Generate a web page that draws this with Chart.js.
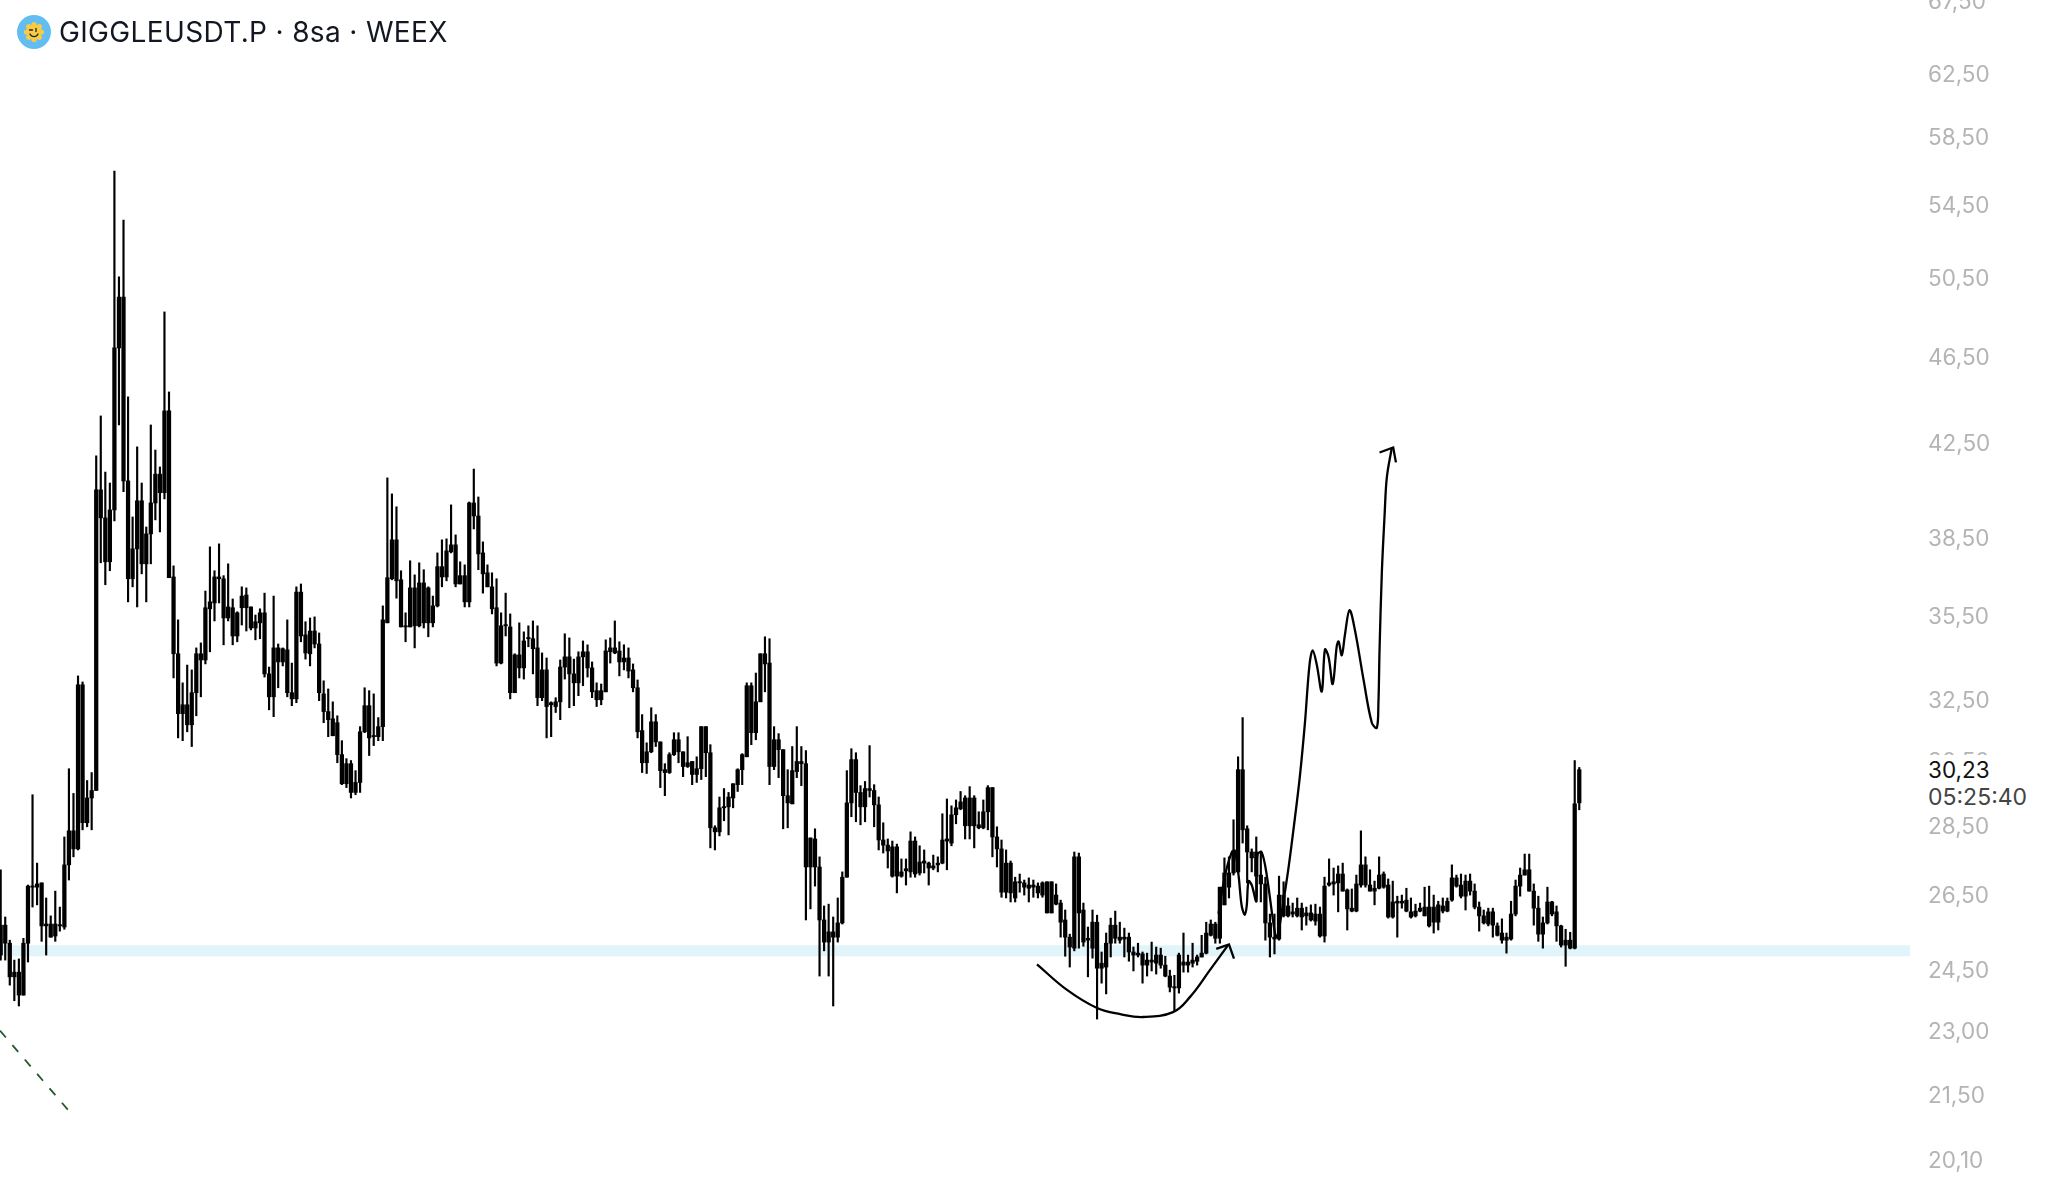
<!DOCTYPE html>
<html>
<head>
<meta charset="utf-8">
<style>
html,body{margin:0;padding:0;background:#fff;width:2047px;height:1198px;overflow:hidden}
#wrap{position:relative;width:2047px;height:1198px}
#title{position:absolute;left:59px;top:15px;font:28px/34px Inter,sans-serif;color:#131722;white-space:nowrap;letter-spacing:.35px}
#icon{position:absolute;left:17px;top:15px;width:34px;height:34px}
#last{position:absolute;left:1920px;top:755px;width:127px;height:58px;background:#fff;font:22.5px/26px Inter,sans-serif}
#last div{position:absolute;left:8px;white-space:nowrap}
#lastPrice{top:2px;color:#111}
#countdown{top:29px;color:#444;font-size:23px}
</style>
</head>
<body>
<div id="wrap">
<canvas id="c" width="2047" height="1198"></canvas>
<svg id="icon" viewBox="0 0 34 34"><circle cx="17" cy="17" r="17" fill="#62BDF3"/><g fill="#F7CB45"><circle cx="17" cy="17" r="7.5"/><circle cx="17" cy="9.5" r="2.6"/><circle cx="17" cy="24.5" r="2.6"/><circle cx="9.5" cy="17" r="2.6"/><circle cx="24.5" cy="17" r="2.6"/><circle cx="11.7" cy="11.7" r="2.6"/><circle cx="22.3" cy="11.7" r="2.6"/><circle cx="11.7" cy="22.3" r="2.6"/><circle cx="22.3" cy="22.3" r="2.6"/></g><path d="M12.5 15h3M19 13.5v3M13 19c1.5 3.5 6.5 3.5 8 0" fill="none" stroke="#222" stroke-width="1.3" stroke-linecap="round"/></svg>
<div id="title">GIGGLEUSDT.P · 8sa · WEEX</div>
<div id="last"><div id="lastPrice">30,23</div><div id="countdown">05:25:40</div></div>
</div>
<script src="https://cdn.jsdelivr.net/npm/chart.js@4/dist/chart.umd.min.js"></script>
<script>
const tickValues=[67.5,62.5,58.5,54.5,50.5,46.5,42.5,38.5,35.5,32.5,30.5,28.5,26.5,24.5,23,21.5,20.1];
const highs=[27.21,25.90,25.28,24.76,24.79,25.33,26.78,29.43,27.40,26.84,26.42,25.93,26.61,26.17,28.16,30.24,29.47,33.32,33.11,29.87,30.12,41.93,43.72,41.23,40.76,56.47,50.56,53.65,44.6,39.34,42.33,40.76,38.93,43.31,42.19,41.45,48.74,44.83,37.38,35.33,33.08,33.70,33.53,34.31,34.49,36.41,38.13,37.19,38.25,37.0,37.46,36.11,35.63,36.57,36.53,35.81,35.51,35.74,36.33,33.63,36.22,34.45,34.31,35.33,33.77,36.57,36.68,35.26,35.4,35.44,34.85,33.15,32.87,32.43,31.96,31.14,30.56,30.5,30.18,31.6,32.91,32.81,32.7,31.9,35.85,40.98,40.3,39.76,
37.19,35.59,37.58,37.03,37.5,37.23,36.57,36.22,37.89,38.41,38.45,39.84,38.61,37.54,37.42,39.96,41.36,40.17,38.33,37.42,37.11,36.88,35.59,36.33,35.55,34.1,35.22,34.89,35.11,35.29,35.11,34.13,33.95,32.43,32.57,33.88,34.82,34.67,33.91,34.17,34.56,34.42,33.81,33.08,33.04,34.6,34.67,35.29,34.53,34.42,34.31,33.74,33.18,32.0,31.07,32.23,32.0,31.1,30.4,30.75,31.4,31.4,30.78,31.27,30.47,30.62,31.6,31.6,31.01,28.49,29.36,29.62,29.5,29.77,30.24,30.72,33.08,33.08,33.42,34.1,34.71,34.64,31.6,31.37,30.85,30.21,30.95,31.6,30.95,30.82,
28.13,28.4,27.58,26.2,26.25,25.9,26.42,27.15,30.18,30.88,30.75,29.71,29.84,30.98,29.74,29.36,28.58,28.1,28.04,27.95,27.52,27.52,28.31,28.16,27.9,27.78,27.43,27.63,27.58,28.85,29.3,29.09,29.27,29.53,29.4,29.68,29.4,28.91,29.27,29.71,29.65,28.46,28.07,27.78,27.46,27.0,27.09,26.92,26.98,26.92,26.84,26.87,26.87,26.87,26.81,26.36,26.09,25.44,27.72,27.69,26.28,25.63,26.09,25.95,24.97,25.47,25.87,26.06,25.76,25.6,25.47,25.1,25.2,24.97,24.94,25.23,25.1,25.07,24.86,24.5,24.37,24.94,25.47,24.89,25.2,24.89,25.41,25.76,25.82,25.76,26.72,27.55,27.58,
28.67,30.62,31.9,28.49,27.81,28.16,27.75,27.0,25.98,25.98,27.03,26.87,26.42,26.28,26.42,26.28,26.17,26.23,26.25,26.17,27.0,27.52,27.26,27.32,27.4,26.67,26.67,27.06,28.34,27.58,27.21,26.89,27.58,27.15,26.95,26.89,26.47,26.5,26.69,26.42,26.25,26.28,26.72,26.75,26.5,26.33,26.42,26.42,27.35,27.06,27.09,27.06,27.09,26.81,26.31,26.09,26.14,26.14,25.74,25.85,25.47,26.33,26.92,27.26,27.66,27.66,26.81,26.47,25.9,26.72,26.33,26.2,25.68,25.57,25.49,30.5,30.28];
const tops=[25.68,25.68,25.2,24.45,24.45,25.2,26.75,26.75,26.81,26.84,25.71,25.71,25.71,25.68,27.35,28.34,28.34,33.01,33.01,29.33,29.56,40.47,40.47,39.3,39.63,46.94,49.5,49.5,40.85,38.05,40.01,40.01,38.65,39.92,41.14,41.14,43.95,43.95,36.95,34.1,32.33,32.33,32.74,34.1,34.1,35.78,36.0,36.95,36.95,36.88,35.81,35.78,35.59,36.22,36.26,35.81,35.26,35.59,35.59,33.39,34.31,34.31,34.28,34.24,32.74,36.37,36.37,34.78,34.92,34.92,34.45,32.7,32.1,31.86,31.73,30.69,30.4,30.4,29.81,31.43,32.3,32.3,31.3,31.6,35.33,36.92,38.41,38.41,
36.84,35.11,36.53,36.53,36.72,36.72,36.53,35.85,37.35,37.35,37.97,38.21,38.21,37.0,37.0,39.92,39.92,39.38,37.89,37.11,36.57,35.78,35.11,35.14,35.07,34.06,34.06,34.56,34.67,34.64,34.31,33.53,33.53,32.4,32.43,33.63,33.99,33.99,33.39,33.99,34.17,34.17,33.6,32.81,32.81,34.2,34.31,34.31,34.2,33.95,33.95,33.53,32.91,31.47,30.78,31.76,31.76,31.1,30.21,30.69,31.17,31.17,30.78,30.43,30.47,30.24,31.6,31.6,30.75,28.43,29.03,29.06,29.36,29.77,30.21,30.69,32.98,32.98,32.43,34.1,34.1,33.77,31.17,31.17,30.85,29.4,30.18,30.47,30.47,30.4,
28.13,28.1,27.29,25.82,25.5,25.5,25.74,27.0,29.18,30.53,30.53,29.5,29.62,29.62,29.56,29.12,28.07,27.92,27.87,27.87,27.15,27.24,28.04,28.04,27.43,27.46,27.4,27.32,27.4,28.07,28.1,28.82,29.03,29.21,29.33,29.33,29.33,28.52,28.91,29.65,29.65,28.16,27.81,27.4,27.4,26.87,26.87,26.84,26.78,26.78,26.75,26.84,26.87,26.87,26.5,26.28,25.82,25.36,27.58,27.58,26.09,25.33,25.76,25.76,24.68,25.2,25.68,25.68,25.36,25.36,25.36,24.97,24.94,24.92,24.76,24.76,24.89,24.89,24.63,24.35,24.07,24.89,24.71,24.71,24.76,24.84,24.94,25.47,25.71,25.71,26.72,27.12,27.12,
27.75,30.21,30.21,28.4,27.72,27.72,27.06,26.81,25.74,25.36,26.5,26.5,26.2,26.04,26.14,26.14,26.01,26.01,25.98,25.98,26.75,26.84,26.87,27.09,27.09,26.64,26.14,26.81,27.35,27.35,26.78,26.69,27.06,27.09,26.78,26.31,26.33,26.33,26.36,26.04,26.06,26.14,26.17,26.17,26.17,26.23,26.2,26.33,26.98,26.98,26.78,26.89,26.89,26.61,26.17,25.93,26.04,26.04,25.66,25.47,25.36,25.98,26.75,27.06,27.21,27.21,26.61,26.14,25.74,26.31,26.31,26.04,25.66,25.28,25.28,29.15,30.21];
const bottoms=[24.89,25.2,24.33,24.33,23.87,23.87,25.2,26.72,26.72,25.66,25.66,25.36,25.39,25.66,25.63,27.35,27.81,27.81,28.58,28.58,29.33,29.56,39.3,37.54,37.54,39.63,46.94,40.85,36.88,36.88,38.05,37.46,37.46,38.65,39.92,40.35,40.35,36.92,34.1,32.03,32.03,31.66,31.66,32.74,33.88,33.88,35.74,35.96,36.88,35.4,35.4,34.74,34.74,35.78,35.78,35.03,35.03,35.22,33.39,32.6,32.6,33.81,33.81,32.74,32.53,32.53,34.74,34.13,34.1,34.45,32.74,32.1,31.83,31.3,30.69,29.77,29.77,29.5,29.5,29.81,31.43,31.23,31.27,31.27,31.6,35.22,36.88,36.8,
35.07,35.07,35.07,35.11,35.11,35.22,35.22,35.22,35.85,36.95,36.95,37.93,36.68,36.68,36.0,36.0,39.38,37.85,37.07,36.57,35.74,33.77,33.77,35.11,32.74,32.74,33.6,33.6,34.64,34.28,32.57,32.57,32.27,32.33,32.27,32.43,33.63,33.39,33.08,33.08,33.99,33.6,32.77,32.5,32.5,32.77,34.17,34.13,33.81,33.81,33.49,32.91,
31.43,30.43,30.43,30.78,31.1,30.18,30.12,30.12,30.69,30.78,30.31,30.31,30.06,30.06,30.24,30.75,28.43,28.31,28.31,29.03,29.06,29.33,29.74,30.21,30.62,31.4,31.4,32.43,33.74,30.31,30.31,30.85,29.4,29.18,29.15,30.15,30.4,27.29,
27.29,27.29,25.82,25.23,25.23,25.36,25.36,25.74,27.0,29.18,29.5,29.06,29.06,29.56,29.12,28.07,27.92,27.75,27.03,27.03,27.03,27.18,27.15,27.09,27.12,27.4,27.26,27.26,27.35,27.4,28.04,27.98,28.82,29.0,28.49,28.49,28.49,28.43,28.43,28.91,28.16,27.81,26.58,26.58,26.56,26.42,26.84,26.72,26.69,26.72,26.56,26.5,26.01,26.01,26.25,25.76,25.36,25.1,25.07,26.01,25.23,25.28,25.07,24.55,24.55,24.58,25.2,25.33,25.28,25.31,24.97,24.89,24.89,24.63,24.63,24.71,24.68,24.63,24.35,24.07,24.05,24.05,24.63,24.63,24.68,24.73,24.84,24.94,25.41,25.33,25.33,26.23,26.72,
27.12,27.15,28.37,27.72,27.55,27.03,26.81,25.74,25.36,25.31,25.31,25.93,25.93,25.98,25.93,25.9,25.93,25.82,25.79,25.39,25.39,26.78,26.81,26.84,26.61,26.12,26.06,26.06,26.78,26.78,26.61,26.61,26.69,26.72,25.9,25.9,26.28,26.28,26.06,25.9,25.93,26.06,25.93,25.66,25.76,25.76,26.06,26.06,26.36,26.75,26.47,26.47,26.61,26.17,25.93,25.74,25.71,25.68,25.41,25.28,25.28,25.31,25.98,26.75,27.06,26.61,26.14,25.44,25.44,25.74,25.98,25.66,25.15,25.15,25.07,25.07,29.18];
const lows=[24.76,24.76,24.12,23.73,23.6,23.87,24.71,26.17,26.23,25.25,24.89,25.36,25.25,25.52,25.57,26.92,27.58,27.78,28.37,28.46,28.37,29.56,37.5,36.65,37.19,39.18,43.31,40.39,36.0,36.57,35.81,37.07,36.0,37.46,39.22,38.73,40.09,36.92,33.25,31.23,31.14,31.43,30.95,31.96,32.6,33.74,34.17,35.29,35.96,34.42,35.29,34.42,34.53,35.14,34.92,34.96,34.6,34.64,33.28,32.16,31.93,32.91,33.67,32.6,32.3,32.4,34.53,33.91,33.67,34.31,32.47,31.73,31.27,31.3,30.43,29.74,29.65,29.33,29.43,29.5,31.4,30.66,30.98,31.14,31.14,35.22,36.84,36.14,
35.07,34.53,35.07,34.31,35.07,35.03,34.71,35.07,35.81,36.57,36.8,37.89,36.57,36.68,35.81,35.81,38.85,37.23,36.33,36.57,35.55,33.67,33.74,34.74,32.53,32.74,33.25,33.21,34.35,33.39,32.3,32.47,31.23,31.27,32.07,31.83,33.21,32.23,32.3,32.64,32.98,33.28,32.57,32.27,32.33,32.77,33.77,34.1,33.32,33.53,33.25,32.77,31.23,30.12,30.09,30.75,30.95,29.65,29.4,30.09,30.66,30.43,29.99,30.28,29.74,29.81,29.9,29.99,27.84,27.78,28.19,28.64,28.22,29.03,29.53,29.74,30.62,31.01,31.17,32.43,32.77,29.74,30.21,29.96,28.4,28.43,29.15,29.96,29.71,25.82,
26.12,26.75,24.35,25.0,24.35,23.6,25.23,25.71,27.0,28.76,28.61,28.52,28.61,29.36,28.46,27.78,27.69,27.26,27.0,26.56,27.0,26.78,27.0,27.0,27.06,27.12,26.78,27.21,27.15,27.38,27.21,27.9,28.55,28.97,28.1,28.1,27.84,28.4,28.4,28.37,27.58,27.29,26.44,26.42,26.31,26.31,26.58,26.5,26.31,26.44,26.42,26.44,26.01,26.01,26.23,25.36,24.86,24.58,25.0,25.07,25.12,24.33,24.81,23.28,24.17,23.9,24.84,25.2,25.2,24.84,24.73,24.48,24.84,24.17,24.35,24.48,24.4,24.55,24.33,23.95,23.48,23.92,24.45,24.45,24.58,24.63,24.84,24.92,25.39,25.2,25.2,26.23,26.42,
27.06,27.12,27.98,26.84,27.15,26.31,26.31,25.28,24.84,24.92,25.28,25.9,25.9,25.9,25.9,25.55,25.68,25.79,25.68,25.36,25.23,26.75,26.5,26.04,26.61,25.55,26.04,26.04,26.72,26.72,26.61,26.23,26.67,26.69,25.87,25.87,25.36,26.14,26.04,25.87,25.9,26.04,25.93,25.63,25.47,25.55,26.01,26.04,26.33,26.72,26.42,26.09,26.5,26.12,25.52,25.71,25.66,25.36,25.39,25.2,24.94,25.28,25.93,26.47,27.06,26.61,25.68,25.25,25.07,25.71,25.93,25.25,25.1,24.6,25.05,25.05,28.97];
const candleIndex=highs.map((_,i)=>i);
const bandPrice=25.0, bandStart=-0.15, bandEnd=419.7;
const cupX=[227.8,234.4,241.0,246.1,251.1,257.7,261.4,265.8,269.8];
const cupY=[24.65,24.0,23.55,23.4,23.33,23.45,23.82,24.5,25.15];
const cupArrowX=[267.2,270,271.1];
const cupArrowY=[25.05,25.17,24.8];
const pathX=[267.7,269.15,270.6,271.3,272.1,272.8,273.5,273.9,274.3,275,276,276.1,276.3,277.2,278.3,280.1,280.65,281.4,283.1,284.5,285.6,286.7,287.7,288.4,289.3,290.4,291.1,291.9,292.8,293.7,294.1,294.8,295.5,296.5,297.7,299.6,301.4,302.5,302.85,303.1,303.6,304.2,304.7,305.8];
const pathY=[25.99,27.06,27.71,27.76,27.06,26.2,25.96,26.2,26.89,26.78,26.33,27.16,27.66,27.71,27.06,25.47,25.36,25.87,27.28,28.73,30.02,31.73,33.71,34.22,33.71,32.78,34.25,33.98,33.04,34.38,34.54,34.05,34.8,35.69,34.94,33.17,31.73,31.56,32.39,34.25,37.11,39.39,41.0,42.3];
const pathArrowX=[303.1,306.1,306.7];
const pathArrowY=[42.08,42.3,41.65];
const dashX=[-0.15,15];
const dashY=[23.0,21.15];

const zip=(xs,ys)=>xs.map((x,i)=>({x,y:ys[i]}));
const bars=(a,b,thick,order,extra)=>Object.assign({type:'bar',data:candleIndex.map(i=>({x:i,y:[a[i],b[i]]})),backgroundColor:'#000',borderWidth:0,barThickness:thick,grouped:false,order},extra||{});
const line=(xs,ys,opts)=>Object.assign({type:'line',data:zip(xs,ys),borderColor:'#000',borderWidth:2.3,pointRadius:0,fill:false,tension:0,order:1},opts||{});

new Chart(document.getElementById('c'),{
 type:'bar',
 data:{datasets:[
  line([bandStart,bandEnd],[bandPrice,bandPrice],{borderColor:'#E0F4FA',borderWidth:11,order:10}),
  bars(lows,highs,1.5,5),
  bars(bottoms,tops,3.6,4,{minBarLength:1.2}),
  line(cupX,cupY,{tension:.4}),
  line(cupArrowX,cupArrowY),
  line(pathX,pathY,{tension:.35}),
  line(pathArrowX,pathArrowY),
  line(dashX,dashY,{borderColor:'#1F5A2E',borderWidth:1.8,borderDash:[9,10]})
 ]},
 options:{
  responsive:false,animation:false,devicePixelRatio:1,
  layout:{padding:0},
  plugins:{legend:{display:false},title:{display:false},tooltip:{enabled:false}},
  scales:{
   x:{type:'linear',min:bandStart,max:bandEnd,offset:false,display:false,grid:{display:false}},
   y:{type:'logarithmic',position:'right',min:19.31,max:67.52,
      grid:{display:false,drawTicks:false},border:{display:false},
      ticks:{color:'#B4B4B4',padding:18,autoSkip:false,maxRotation:0,labelOffset:1.5,font:{family:'Inter',size:22.5},
        callback:v=>Number(v).toFixed(2).replace('.',',')},
      afterBuildTicks:s=>{s.ticks=tickValues.map(v=>({value:v}));},
      afterFit:s=>{s.width=137;s.paddingTop=0;s.paddingBottom=0;}
   }
  }
 }
});
</script>
</body>
</html>
